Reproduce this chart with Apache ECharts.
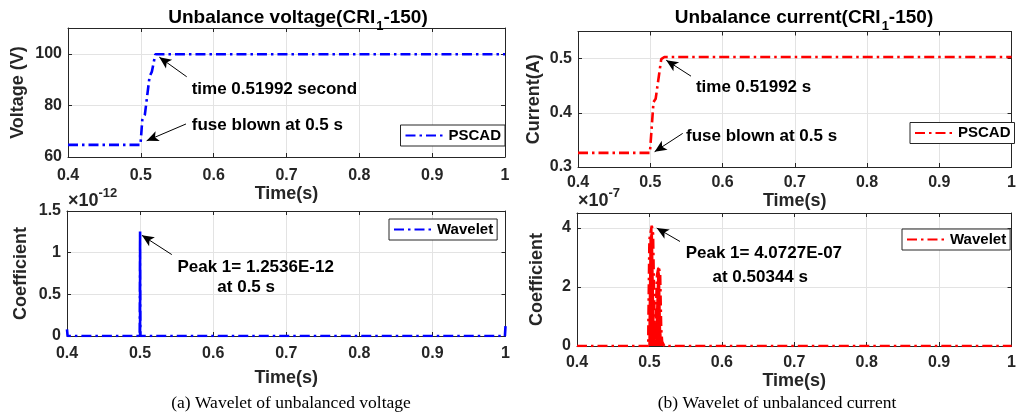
<!DOCTYPE html>
<html>
<head>
<meta charset="utf-8">
<script src="https://cdn.jsdelivr.net/npm/echarts@6/dist/echarts.min.js"></script>
<style>
html,body{margin:0;padding:0;background:#ffffff;}
#chart{width:1019px;height:416px;}
</style>
</head>
<body>
<div id="chart"></div>
<script>
// ---------------- data ----------------
const timeRange = [0.4, 1.0];
const timeStep = 0.1;

// (a) top: unbalance voltage (V), PSCAD
const voltTime  = [0.4, 0.4995, 0.502, 0.5055, 0.512, 0.5152, 0.5199, 1.0];
const voltValue = [64.7, 64.7, 74.4, 76.3, 91.2, 93.1, 99.8, 99.8];

// (b) top: unbalance current (A), PSCAD
const currTime  = [0.4, 0.4995, 0.5045, 0.5075, 0.5152, 0.5195, 1.0];
const currValue = [0.326, 0.326, 0.420, 0.426, 0.499, 0.503, 0.503];

// (a) bottom: wavelet coefficient of voltage, in units of 1e-12
const wvTime  = [0.4, 0.4008, 0.4995, 0.5, 0.5, 0.5, 0.5005, 0.9992, 1.0];
const wvValue = [0.08, 0, 0, 1.2536, 0, 1.2536, 0, 0, 0.12];

// (b) bottom: wavelet coefficient of current, in units of 1e-7
const wcTime  = [0.4, 0.4984, 0.4986, 0.5000, 0.5032, 0.5050, 0.5068, 0.5078,
                 0.5092, 0.5105, 0.5128, 0.5148, 0.5162, 0.5175, 0.5195, 0.5205, 1.0];
const wcValue = [0, 0, 0.8, 3.6, 4.0727, 3.8, 1.2, 0.2,
                 0.2, 2.4, 2.7, 2.4, 0.6, 0.15, 0.1, 0, 0];

// axis ranges / ticks
const voltAxis = {min: 60, max: 110, interval: 20};
const currAxis = {min: 0.3, max: 0.55, interval: 0.1};
const wvAxis   = {min: 0, max: 1.5, interval: 0.5};
const wcAxis   = {min: 0, max: 4.5, interval: 2};

const titles   = ['Unbalance voltage(CRI', 'Unbalance current(CRI'];
const captions = ['(a) Wavelet of unbalanced voltage', '(b) Wavelet of unbalanced current'];
const exponents = ['-12', '-7'];

// annotations: [text, x, y] and arrows [x1,y1,x2,y2] in data units
const annVolt  = [['time 0.51992 second', 0.5698, 86.3], ['fuse blown at 0.5 s', 0.57, 72.4]];
const arrVolt  = [[0.563, 91.1, 0.5254, 98.7], [0.562, 72.8, 0.508, 66.3]];
const annCurr  = [['time 0.51992 s', 0.5632, 0.4479], ['fuse blown at 0.5 s', 0.5495, 0.3558]];
const arrCurr  = [[0.5564, 0.4676, 0.5221, 0.497], [0.5449, 0.362, 0.506, 0.3282]];
const annWv    = [['Peak 1= 1.2536E-12', 0.5511, 0.822], ['at 0.5 s', 0.6057, 0.59]];
const arrWv    = [[0.5434, 0.977, 0.5025, 1.208]];
const annWc    = [['Peak 1= 4.0727E-07', 0.55, 3.14], ['at 0.50344 s', 0.5871, 2.315]];
const arrWc    = [[0.5422, 3.536, 0.5101, 3.99]];

// ---------------- styling / layout ----------------
const FONT = '"Liberation Sans", Arial, Helvetica, sans-serif';
const SERIF = '"Liberation Serif", "Times New Roman", serif';
const AX = '#262626';
const GRIDC = '#e3e3e3';
const DASHDOT = [10, 4, 2.5, 4];

const grids = [
  {left: 68,  top: 28,  width: 437, height: 129},
  {left: 578, top: 31.5, width: 437, height: 135.5},
  {left: 67,  top: 211, width: 438.5, height: 125},
  {left: 577, top: 213, width: 436, height: 133}
];

const fmt = v => String(+(+v).toFixed(2));

function mainX(g, nameGap, margin) {
  return {
    gridIndex: g, type: 'value', min: timeRange[0], max: timeRange[1], interval: timeStep,
    name: 'Time(s)', nameLocation: 'middle', nameGap: nameGap,
    nameTextStyle: {fontFamily: FONT, fontSize: 18, fontWeight: 'bold', color: AX},
    axisLine: {show: true, onZero: false, lineStyle: {color: AX, width: 1}},
    axisTick: {show: true, inside: true, length: 4, lineStyle: {color: AX}},
    axisLabel: {margin: margin, fontFamily: FONT, fontSize: 16, fontWeight: 'bold', color: AX, formatter: fmt},
    splitLine: {show: true, lineStyle: {color: GRIDC, width: 1}}
  };
}
function topX(g) {
  return {
    gridIndex: g, type: 'value', position: 'top', min: timeRange[0], max: timeRange[1], interval: timeStep,
    axisLine: {show: true, onZero: false, lineStyle: {color: AX, width: 1}},
    axisTick: {show: true, inside: true, length: 4, lineStyle: {color: AX}},
    axisLabel: {show: false}, splitLine: {show: false}
  };
}
function mainY(g, name, ax, nameGap, hideMax) {
  return {
    gridIndex: g, type: 'value', min: ax.min, max: ax.max, interval: ax.interval,
    name: name, nameLocation: 'middle', nameGap: nameGap,
    nameTextStyle: {fontFamily: FONT, fontSize: 18, fontWeight: 'bold', color: AX},
    axisLine: {show: true, onZero: false, lineStyle: {color: AX, width: 1}},
    axisTick: {show: true, inside: true, length: 4, lineStyle: {color: AX}},
    axisLabel: {margin: 6, fontFamily: FONT, fontSize: 16, fontWeight: 'bold', color: AX, formatter: fmt,
                showMaxLabel: hideMax ? false : true},
    splitLine: {show: true, lineStyle: {color: GRIDC, width: 1}}
  };
}
function rightY(g, ax) {
  return {
    gridIndex: g, type: 'value', position: 'right', min: ax.min, max: ax.max, interval: ax.interval,
    axisLine: {show: true, onZero: false, lineStyle: {color: AX, width: 1}},
    axisTick: {show: true, inside: true, length: 4, lineStyle: {color: AX}},
    axisLabel: {show: false}, splitLine: {show: false}
  };
}

function annotations(texts, arrows) {
  return {
    markLine: {
      silent: true, animation: false,
      symbol: ['none', 'arrow'], symbolSize: 11,
      lineStyle: {color: '#000', width: 1, type: 'solid'},
      label: {show: false},
      data: arrows.map(a => [
        {coord: [a[0], a[1]], symbol: 'none'},
        {coord: [a[2], a[3]], symbol: 'arrow', symbolSize: [8, 12]}
      ])
    },
    markPoint: {
      silent: true, animation: false,
      data: texts.map(t => ({
        coord: [t[1], t[2]], symbol: 'circle', symbolSize: 0,
        itemStyle: {color: 'rgba(0,0,0,0)'},
        label: {show: true, position: 'right', distance: 0, formatter: t[0],
                fontFamily: FONT, fontSize: 17, fontWeight: 'bold', color: '#000'}
      }))
    }
  };
}

function lineSeries(name, xi, color, times, values, extra) {
  return Object.assign({
    name: name, type: 'line', xAxisIndex: xi, yAxisIndex: xi,
    symbol: 'none', showSymbol: false, animation: false,
    lineStyle: {color: color, width: 2.6, type: DASHDOT},
    itemStyle: {color: color},
    data: times.map((t, i) => [t, values[i]])
  }, extra || {});
}

const legendBase = {
  orient: 'horizontal', selectedMode: false,
  itemWidth: 38, itemHeight: 12, itemGap: 4,
  padding: [3, 4, 3, 4],
  borderColor: AX, borderWidth: 1, backgroundColor: '#ffffff',
  itemStyle: {color: 'rgba(0,0,0,0)', borderWidth: 0, opacity: 0},
  textStyle: {fontFamily: FONT, fontSize: 15, fontWeight: 'bold', color: '#000', padding: [0, 0, 0, 0]},
  formatter: n => n.split('|')[0]
};

const titleRich = {
  t: {fontFamily: FONT, fontSize: 19, fontWeight: 'bold', color: '#000', lineHeight: 24, verticalAlign: 'top'},
  s: {fontFamily: FONT, fontSize: 13, fontWeight: 'bold', color: '#000', lineHeight: 14, verticalAlign: 'top', padding: [12, 0, 0, 1]}
};
const expRich = {
  a: {fontFamily: FONT, fontSize: 18, color: AX, lineHeight: 20, verticalAlign: 'top', padding: [5, 0, 0, 0]},
  b: {fontFamily: FONT, fontSize: 13, color: AX, lineHeight: 14, verticalAlign: 'top'}
};

const option = {
  backgroundColor: '#ffffff',
  animation: false,
  grid: grids.map(g => Object.assign({containLabel: false}, g)),
  xAxis: [mainX(0, 26, 11), mainX(1, 21, 8), mainX(2, 33, 10), mainX(3, 18, 9),
          topX(0), topX(1), topX(2), topX(3)],
  yAxis: [mainY(0, 'Voltage (V)', voltAxis, 41, true),
          mainY(1, 'Current(A)', currAxis, 35, true),
          mainY(2, 'Coefficient', wvAxis, 37, false),
          mainY(3, 'Coefficient', wcAxis, 31, true),
          rightY(0, voltAxis), rightY(1, currAxis), rightY(2, wvAxis), rightY(3, wcAxis)],
  title: [
    {text: '{t|' + titles[0] + '}{s|1}{t|-150)}', left: 298, top: 8, textAlign: 'center', padding: 0,
     textStyle: {rich: titleRich}},
    {text: '{t|' + titles[1] + '}{s|1}{t|-150)}', left: 804, top: 8, textAlign: 'center', padding: 0,
     textStyle: {rich: titleRich}},
    {text: '{a|×10}{b|' + exponents[0] + '}', left: 68, top: 187, padding: 0, textStyle: {rich: expRich}},
    {text: '{a|×10}{b|' + exponents[1] + '}', left: 578, top: 187, padding: 0, textStyle: {rich: expRich}},
    {text: captions[0], left: 291, top: 394, textAlign: 'center', padding: 0,
     textStyle: {fontFamily: SERIF, fontSize: 17.5, fontWeight: 'normal', color: '#000'}},
    {text: captions[1], left: 777, top: 394, textAlign: 'center', padding: 0,
     textStyle: {fontFamily: SERIF, fontSize: 17.5, fontWeight: 'normal', color: '#000'}}
  ],
  legend: [
    Object.assign({}, legendBase, {data: ['PSCAD|a'], left: 400.5, top: 125}),
    Object.assign({}, legendBase, {data: ['PSCAD|b'], left: 910, top: 122.5}),
    Object.assign({}, legendBase, {data: ['Wavelet|a'], left: 389, top: 219}),
    Object.assign({}, legendBase, {data: ['Wavelet|b'], left: 902, top: 229})
  ],
  series: [
    lineSeries('PSCAD|a', 0, '#0000ff', voltTime, voltValue, annotations(annVolt, arrVolt)),
    lineSeries('PSCAD|b', 1, '#ff0000', currTime, currValue, annotations(annCurr, arrCurr)),
    lineSeries('Wavelet|a', 2, '#0000ff', wvTime, wvValue, annotations(annWv, arrWv)),
    lineSeries('Wavelet|b', 3, '#ff0000', wcTime, wcValue,
      Object.assign({areaStyle: {color: '#ff0000', opacity: 1}}, annotations(annWc, arrWc)))
  ]
};

const chart = echarts.init(document.getElementById('chart'), null, {renderer: 'canvas'});
chart.setOption(option);
</script>
</body>
</html>
